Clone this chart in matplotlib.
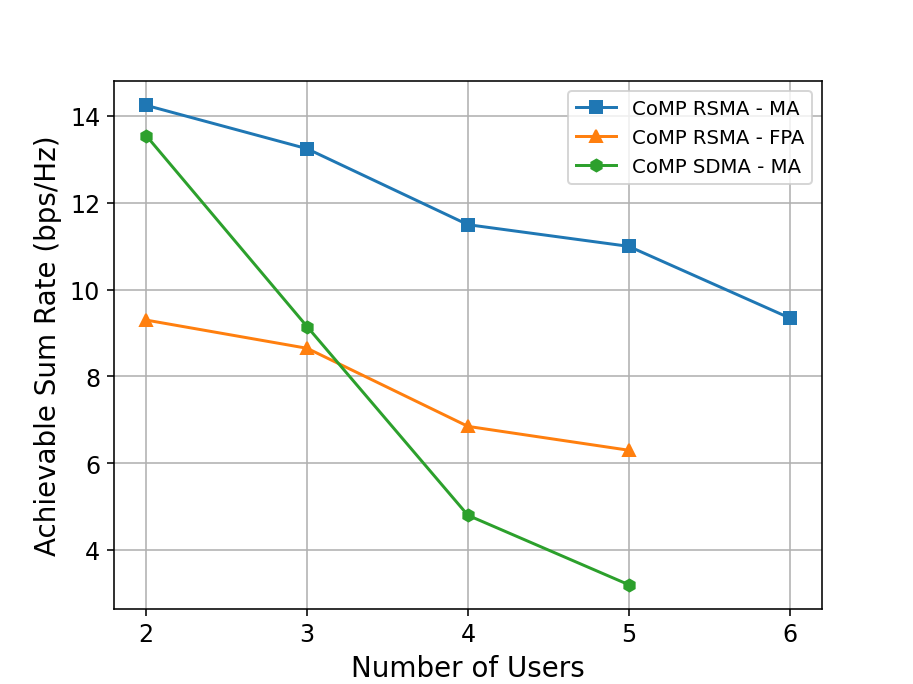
import numpy as np
import matplotlib.pyplot as plt

users_ma = [2, 3, 4, 5, 6]
rsma_ma = [14.25, 13.25, 11.5, 11.0, 9.35]
users_other = [2, 3, 4, 5]
rsma_fpa = [9.3, 8.65, 6.85, 6.3]
sdma_ma = [13.55, 9.15, 4.8, 3.2]

fig = plt.figure(figsize=(6.4, 4.8), dpi=142.66)
ax = fig.add_subplot(111)
ax.plot(users_ma, rsma_ma, marker='s', label='CoMP RSMA - MA')
ax.plot(users_other, rsma_fpa, marker='^', label='CoMP RSMA - FPA')
ax.plot(users_other, sdma_ma, marker='h', label='CoMP SDMA - MA')
ax.set_xlabel('Number of Users', fontsize=14)
ax.set_ylabel('Achievable Sum Rate (bps/Hz)', fontsize=14)
ax.tick_params(labelsize=12)
ax.set_xticks(users_ma)
ax.grid(True)
ax.legend(loc='upper right')
fig.savefig('out.png', dpi=142.66)
